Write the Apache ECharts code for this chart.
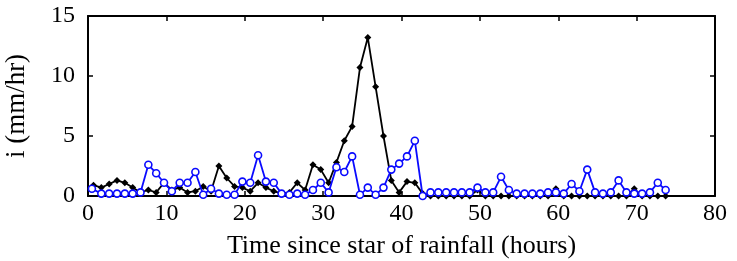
<!DOCTYPE html>
<html><head><meta charset="utf-8">
<script src="https://cdn.jsdelivr.net/npm/echarts@6/dist/echarts.min.js"></script>
<style>html,body{margin:0;padding:0;background:#fff}#c{width:737px;height:261px}</style>
</head><body><div id="c"></div>
<script>
// Time stamps (hours since start of rainfall)
var blackT = [0.7,1.7,2.7,3.7,4.7,5.7,6.7,7.7,8.7,9.7,10.7,11.7,12.7,13.7,14.7,15.7,16.7,17.7,18.7,19.7,20.7,21.7,22.7,23.7,24.7,25.7,26.7,27.7,28.7,29.7,30.7,31.7,32.7,33.7,34.7,35.7,36.7,37.7,38.7,39.7,40.7,41.7,42.7,43.7,44.7,45.7,46.7,47.7,48.7,49.7,50.7,51.7,52.7,53.7,54.7,55.7,56.7,57.7,58.7,59.7,60.7,61.7,62.7,63.7,64.7,65.7,66.7,67.7,68.7,69.7,70.7,71.7,72.7,73.7];
var blackV = [0.9,0.7,1.0,1.3,1.1,0.7,0.3,0.5,0.3,1.1,0.5,0.7,0.3,0.4,0.8,0.4,2.5,1.5,0.8,0.7,0.4,1.1,0.7,0.4,0.2,0.3,1.1,0.5,2.6,2.2,1.1,2.8,4.6,5.8,10.7,13.2,9.1,5.0,1.3,0.3,1.2,1.1,0.2,0,0,0,0,0,0,0.5,0,0,0,0,0,0,0,0,0,0.6,0,0,0,0,0,0,0,0,0,0.6,0,0,0,0];
var blueT = [0.5,1.7,2.7,3.7,4.7,5.7,6.7,7.7,8.7,9.7,10.7,11.7,12.7,13.7,14.7,15.7,16.7,17.7,18.7,19.7,20.7,21.7,22.7,23.7,24.7,25.7,26.7,27.7,28.7,29.7,30.7,31.7,32.7,33.7,34.7,35.7,36.7,37.7,38.7,39.7,40.7,41.7,42.7,43.7,44.7,45.7,46.7,47.7,48.7,49.7,50.7,51.7,52.7,53.7,54.7,55.7,56.7,57.7,58.7,59.7,60.7,61.7,62.7,63.7,64.7,65.7,66.7,67.7,68.7,69.7,70.7,71.7,72.7,73.7];
var blueV = [0.6,0.2,0.2,0.2,0.2,0.2,0.3,2.6,1.9,1.1,0.4,1.1,1.1,2.0,0.1,0.6,0.2,0.1,0.1,1.2,1.1,3.4,1.2,1.1,0.2,0.1,0.2,0.1,0.5,1.1,0.3,2.4,2.0,3.3,0.1,0.7,0.1,0.7,2.2,2.7,3.3,4.6,0.0,0.3,0.3,0.3,0.3,0.3,0.3,0.7,0.3,0.3,1.6,0.5,0.2,0.2,0.2,0.2,0.3,0.3,0.2,1.0,0.4,2.2,0.3,0.2,0.3,1.3,0.3,0.2,0.2,0.3,1.1,0.5];
var xTicks = [0,10,20,30,40,50,60,70,80];
var yTicks = [0,5,10,15];

function pairs(t, v){ return t.map(function(x,i){ return [x, v[i]]; }); }
var font = 'Liberation Serif';
var chart = echarts.init(document.getElementById('c'), null, {renderer:'canvas'});
function axisCommon(){
  return {
    axisLine:{show:true, onZero:false, lineStyle:{color:'#000', width:2}},
    axisTick:{show:true, inside:true, length:5, lineStyle:{color:'#000', width:1.5}},
    splitLine:{show:false}
  };
}
chart.setOption({
  animation:false,
  backgroundColor:'#fff',
  grid:{left:88, right:22, top:16, bottom:65, containLabel:false, outerBoundsMode:'none'},
  xAxis:[
    Object.assign({type:'value', min:xTicks[0], max:xTicks[xTicks.length-1], interval:10, position:'bottom',
      name:'Time since star of rainfall (hours)', nameLocation:'middle', nameGap:37,
      nameTextStyle:{fontFamily:font, fontSize:26, color:'#000'},
      axisLabel:{fontFamily:font, fontSize:24, color:'#000', margin:6}}, axisCommon()),
    Object.assign({type:'value', min:xTicks[0], max:xTicks[xTicks.length-1], interval:10, position:'top',
      axisLabel:{show:false}}, axisCommon())
  ],
  yAxis:[
    Object.assign({type:'value', min:yTicks[0], max:yTicks[yTicks.length-1], interval:5, position:'left',
      name:'i (mm/hr)', nameLocation:'middle', nameGap:58,
      nameTextStyle:{fontFamily:font, fontSize:27, color:'#000'},
      axisLabel:{fontFamily:font, fontSize:24, color:'#000', margin:13}}, axisCommon()),
    Object.assign({type:'value', min:yTicks[0], max:yTicks[yTicks.length-1], interval:5, position:'right',
      axisLabel:{show:false}}, axisCommon())
  ],
  series:[
    {type:'line', data:pairs(blackT, blackV), xAxisIndex:0, yAxisIndex:0, z:2,
     lineStyle:{color:'#000', width:1.8}, itemStyle:{color:'#000'},
     symbol:'diamond', symbolSize:7, showSymbol:true},
    {type:'line', data:pairs(blueT, blueV), xAxisIndex:0, yAxisIndex:0, z:3,
     lineStyle:{color:'#0a0aff', width:1.8},
     itemStyle:{color:'#fff', borderColor:'#0a0aff', borderWidth:1.6},
     symbol:'circle', symbolSize:7, showSymbol:true}
  ]
});
</script></body></html>
